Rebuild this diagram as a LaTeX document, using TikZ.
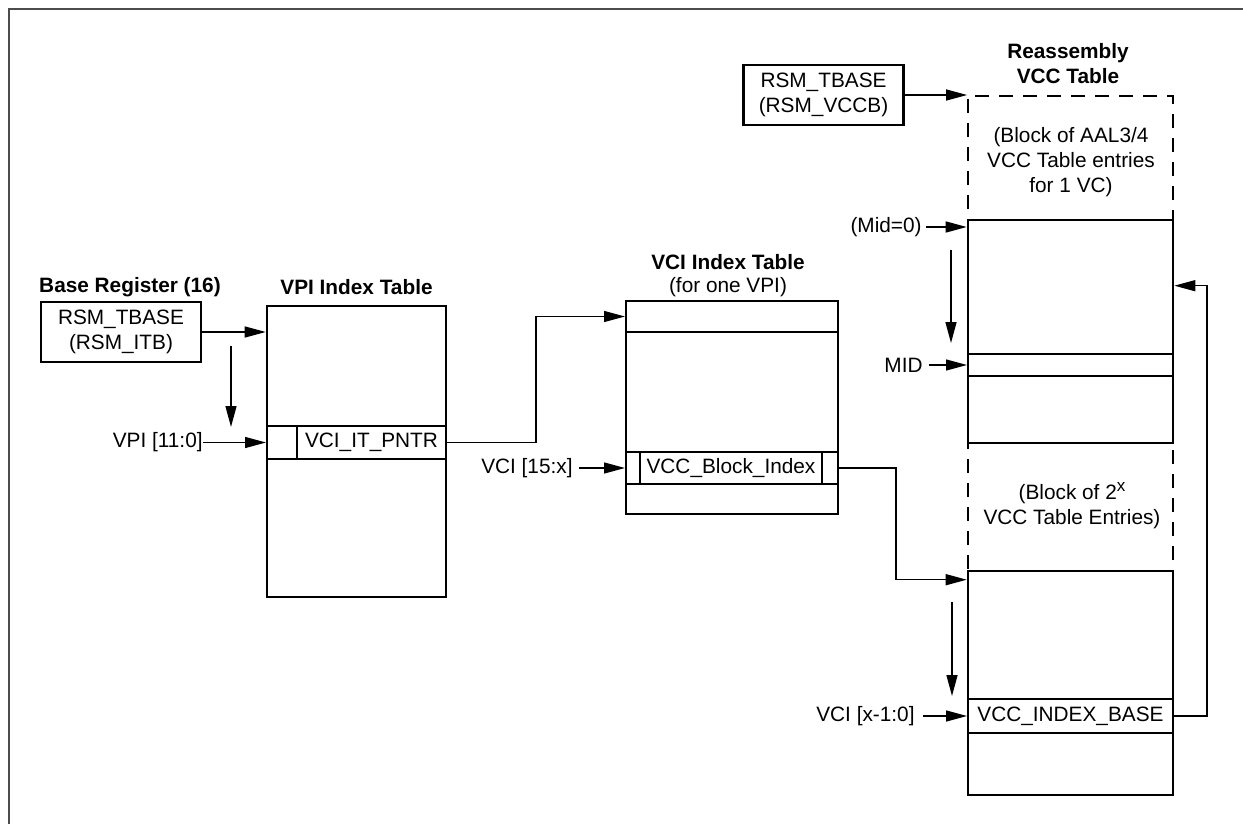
\documentclass[tikz,border=0pt]{standalone}
\usepackage{fontspec}
\setmainfont{Liberation Sans}
\usetikzlibrary{arrows.meta,positioning,calc}

\begin{document}
\begin{tikzpicture}[x=0.5pt, y=-0.5pt,
      every node/.style={font=\fontsize{10.4}{12.5}\selectfont, inner sep=0pt, align=center},
      title/.style={font=\fontsize{10.4}{12.5}\selectfont\bfseries},
      regbox/.style={draw, line width=1.2pt, fill=white, minimum width=80pt, minimum height=30pt},
      tblbox/.style={draw, line width=1.3pt, fill=white, minimum width=#1},
      rowbox/.style={draw, line width=1pt, minimum width=#1},
      cellbox/.style={draw, line width=0.6pt},
      dashbox/.style={draw, line width=0.9pt, dash pattern=on 7pt off 5pt},
      inlabel/.style={anchor=east},
      flow/.style={-{Triangle[length=10.5pt, width=5.5pt]}, line width=0.7pt}]

    \useasboundingbox (0,0) rectangle (1243,824);
    \draw[line width=0.9pt, draw=black!70] (9,824) -- (9,9) -- (1243,9);

    % base register
    \node[title] (basettl) at (130,287) {Base Register (16)};
    \node[regbox] (itb) at (121,332) {RSM\_TBASE\\(RSM\_ITB)};

    % VPI index table
    \node[title] (vpittl) at (356.5,287) {VPI Index Table};
    \node[tblbox=89.5pt, minimum height=145.5pt] (vpi) at (356.5,451.5) {};
    \node[rowbox=89.5pt, minimum height=16.5pt] (vpirow) at (356.5,442.5) {};
    \node[cellbox, minimum width=74.5pt, minimum height=16.5pt] (pntr) at (371.5,442.5) {VCI\_IT\_PNTR};

    % VCI index table
    \node[title] (vcittl) at (728,262) {VCI Index Table};
    \node (vcisub) at (728,287) {(for one VPI)};
    \node[tblbox=106pt, minimum height=106.5pt] (vci) at (732,407.5) {};
    \node[rowbox=106pt, minimum height=15.5pt] (vcitop) at (732,316.5) {};
    \node[rowbox=106pt, minimum height=16pt] (vcirow) at (732,468) {};
    \node[cellbox, minimum width=91pt, minimum height=16pt] (blkidx) at (731,468) {VCC\_Block\_Index};

    % reassembly VCC table
    \node[title] (rsmttl) at (1068,64) {Reassembly\\VCC Table};
    \node[regbox] (vccb) at (823.5,95) {RSM\_TBASE\\(RSM\_VCCB)};
    \node[dashbox, minimum width=102.5pt, minimum height=237.5pt] (rvcc) at (1070.5,333.5) {};
    \node (aalnote) at (1071,162) {(Block of AAL3/4\\VCC Table entries\\for 1 VC)};
    \node[tblbox=102.5pt, minimum height=111.5pt] (blk1) at (1070.5,331.5) {};
    \node[rowbox=102.5pt, minimum height=11pt] (midrow) at (1070.5,365) {};
    \node (blknote) at (1072,506) {(Block of 2\raisebox{4pt}{\fontsize{8.5}{9}\selectfont x}\\VCC Table Entries)};
    \node[tblbox=102.5pt, minimum height=112pt] (blk2) at (1070.5,683) {};
    \node[rowbox=102.5pt, minimum height=17pt] (baserow) at (1070.5,716) {VCC\_INDEX\_BASE};

    % inputs
    \node[inlabel] (vpiin) at (203,442.5) {VPI [11:0]};
    \node[inlabel] (vciin) at (573,468) {VCI [15:x]};
    \node[inlabel] (mid0) at (922,227) {(Mid=0)};
    \node[inlabel] (midin) at (923,365) {MID};
    \node[inlabel] (vcilo) at (915,716) {VCI [x-1:0]};

    \coordinate (step1a) at (231,346);
    \coordinate (step1b) at (231,427);
    \coordinate (step2a) at (951,250);
    \coordinate (step2b) at (951,343);
    \coordinate (step3a) at (952,602);
    \coordinate (step3b) at (952,696);

    \draw[flow] (itb.east) -- (itb.east -| vpi.west);
    \draw[flow] (step1a) -- (step1b);
    \draw[flow] (vpiin.east) -- (vpirow.west);
    \draw[flow] (vpirow.east) -- ++(89,0) |- (vcitop.west);
    \draw[flow] ([xshift=3pt]vciin.east) -- (vcirow.west);
    \draw[flow] (vcirow.east) -- ++(57,0) |- ($(blk2.north west)+(0,10)$);
    \draw[flow] (vccb.east) -- (vccb.east -| rvcc.west);
    \draw[flow] ([xshift=2pt]mid0.east) -- (mid0.east -| blk1.west);
    \draw[flow] (step2a) -- (step2b);
    \draw[flow] ([xshift=3pt]midin.east) -- (midrow.west);
    \draw[flow] (step3a) -- (step3b);
    \draw[flow] ([xshift=4pt]vcilo.east) -- (baserow.west);
    \draw[flow] (baserow.east) -- ++(33,0) |- ($(blk1.north east)+(0,67)$);
  \end{tikzpicture}
\end{document}
